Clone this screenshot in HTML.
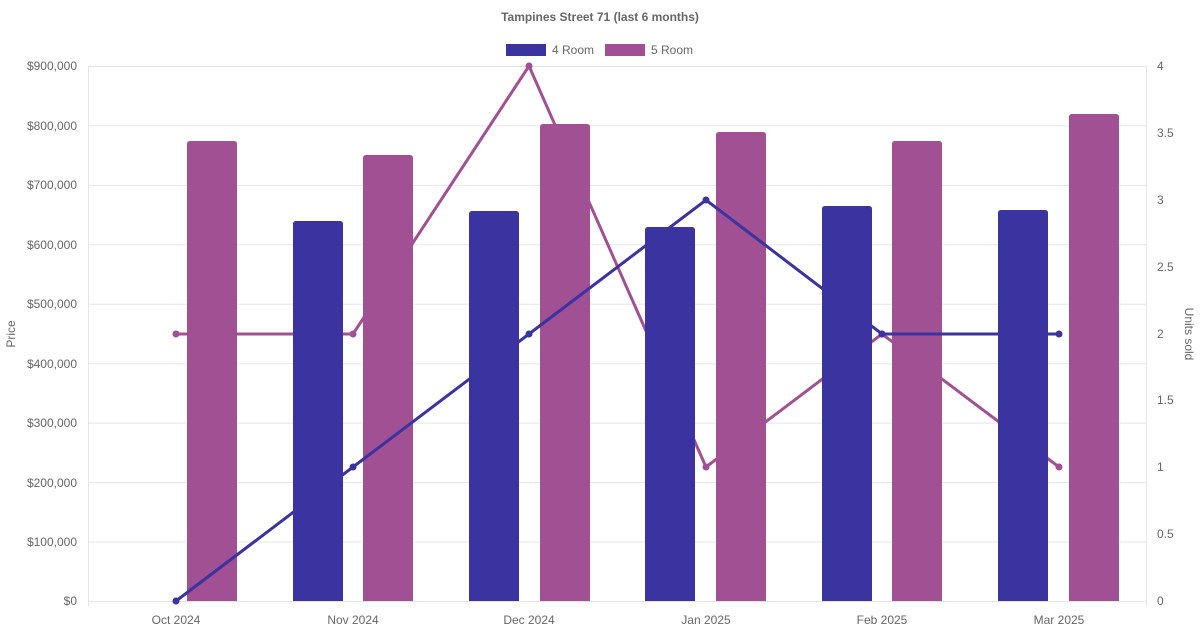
<!DOCTYPE html>
<html><head><meta charset="utf-8"><style>
body{margin:0;background:#fff;}
svg{display:block;font-family:"Liberation Sans",sans-serif;}
</style></head><body>
<svg width="1200" height="630" viewBox="0 0 1200 630">
<text x="600" y="21" text-anchor="middle" font-size="12" font-weight="bold" fill="#666">Tampines Street 71 (last 6 months)</text>
<rect x="506" y="44" width="40" height="12" fill="#3a33a0"/>
<text x="552" y="54" font-size="12" fill="#666">4 Room</text>
<rect x="605" y="44" width="40" height="12" fill="#a05093"/>
<text x="651" y="54" font-size="12" fill="#666">5 Room</text>
<g stroke="#e5e5e5" stroke-width="1">
<line x1="88" y1="66.5" x2="1147" y2="66.5"/><line x1="88" y1="125.9" x2="1147" y2="125.9"/>
<line x1="88" y1="185.4" x2="1147" y2="185.4"/><line x1="88" y1="244.8" x2="1147" y2="244.8"/>
<line x1="88" y1="304.2" x2="1147" y2="304.2"/><line x1="88" y1="363.7" x2="1147" y2="363.7"/>
<line x1="88" y1="423.1" x2="1147" y2="423.1"/><line x1="88" y1="482.6" x2="1147" y2="482.6"/>
<line x1="88" y1="542" x2="1147" y2="542"/><line x1="88" y1="601.5" x2="1147" y2="601.5"/>
<line x1="88.5" y1="66" x2="88.5" y2="606"/><line x1="1146.5" y1="66" x2="1146.5" y2="606"/>
</g>
<g font-size="12" fill="#666" text-anchor="end">
<text x="77" y="70">$900,000</text><text x="77" y="130">$800,000</text><text x="77" y="189">$700,000</text>
<text x="77" y="249">$600,000</text><text x="77" y="308">$500,000</text><text x="77" y="368">$400,000</text>
<text x="77" y="427">$300,000</text><text x="77" y="487">$200,000</text><text x="77" y="546">$100,000</text>
<text x="77" y="605">$0</text>
</g>
<g font-size="12" fill="#666">
<text x="1157" y="70">4</text><text x="1157" y="137">3.5</text><text x="1157" y="204">3</text>
<text x="1157" y="271">2.5</text><text x="1157" y="338">2</text><text x="1157" y="404">1.5</text>
<text x="1157" y="471">1</text><text x="1157" y="538">0.5</text><text x="1157" y="605">0</text>
</g>
<g font-size="12" fill="#666" text-anchor="middle">
<text x="176" y="624">Oct 2024</text><text x="353" y="624">Nov 2024</text><text x="529" y="624">Dec 2024</text>
<text x="706" y="624">Jan 2025</text><text x="882" y="624">Feb 2025</text><text x="1059" y="624">Mar 2025</text>
</g>
<text transform="translate(15,334) rotate(-90)" text-anchor="middle" font-size="12" fill="#666">Price</text>
<text transform="translate(1185,334) rotate(90)" text-anchor="middle" font-size="12" fill="#666">Units sold</text>
<!-- line 5 room -->
<polyline points="176,334 353,334 529,66 706,467 882,334 1059,467" fill="none" stroke="#a05093" stroke-width="3"/>
<g fill="#a05093"><circle cx="176" cy="334" r="3.5"/><circle cx="353" cy="334" r="3.5"/><circle cx="529" cy="66" r="3.5"/><circle cx="706" cy="467" r="3.5"/><circle cx="882" cy="334" r="3.5"/><circle cx="1059" cy="467" r="3.5"/></g>
<!-- bars 5 room -->
<g fill="#a05093">
<path d="M187,601V144q0-3 3-3h44q3 0 3 3V601Z"/>
<path d="M363,601V158q0-3 3-3h44q3 0 3 3V601Z"/>
<path d="M540,601V127q0-3 3-3h44q3 0 3 3V601Z"/>
<path d="M716,601V135q0-3 3-3h44q3 0 3 3V601Z"/>
<path d="M892,601V144q0-3 3-3h44q3 0 3 3V601Z"/>
<path d="M1069,601V117q0-3 3-3h44q3 0 3 3V601Z"/>
</g>
<!-- line 4 room -->
<polyline points="176,601 353,467 529,334 706,200 882,334 1059,334" fill="none" stroke="#3a33a0" stroke-width="3"/>
<g fill="#3a33a0"><circle cx="176" cy="601" r="3.5"/><circle cx="353" cy="467" r="3.5"/><circle cx="529" cy="334" r="3.5"/><circle cx="706" cy="200" r="3.5"/><circle cx="882" cy="334" r="3.5"/><circle cx="1059" cy="334" r="3.5"/></g>
<!-- bars 4 room -->
<g fill="#3a33a0">
<path d="M293,601V224q0-3 3-3h44q3 0 3 3V601Z"/>
<path d="M469,601V214q0-3 3-3h44q3 0 3 3V601Z"/>
<path d="M645,601V230q0-3 3-3h44q3 0 3 3V601Z"/>
<path d="M822,601V209q0-3 3-3h44q3 0 3 3V601Z"/>
<path d="M998,601V213q0-3 3-3h44q3 0 3 3V601Z"/>
</g>
</svg>
</body></html>
